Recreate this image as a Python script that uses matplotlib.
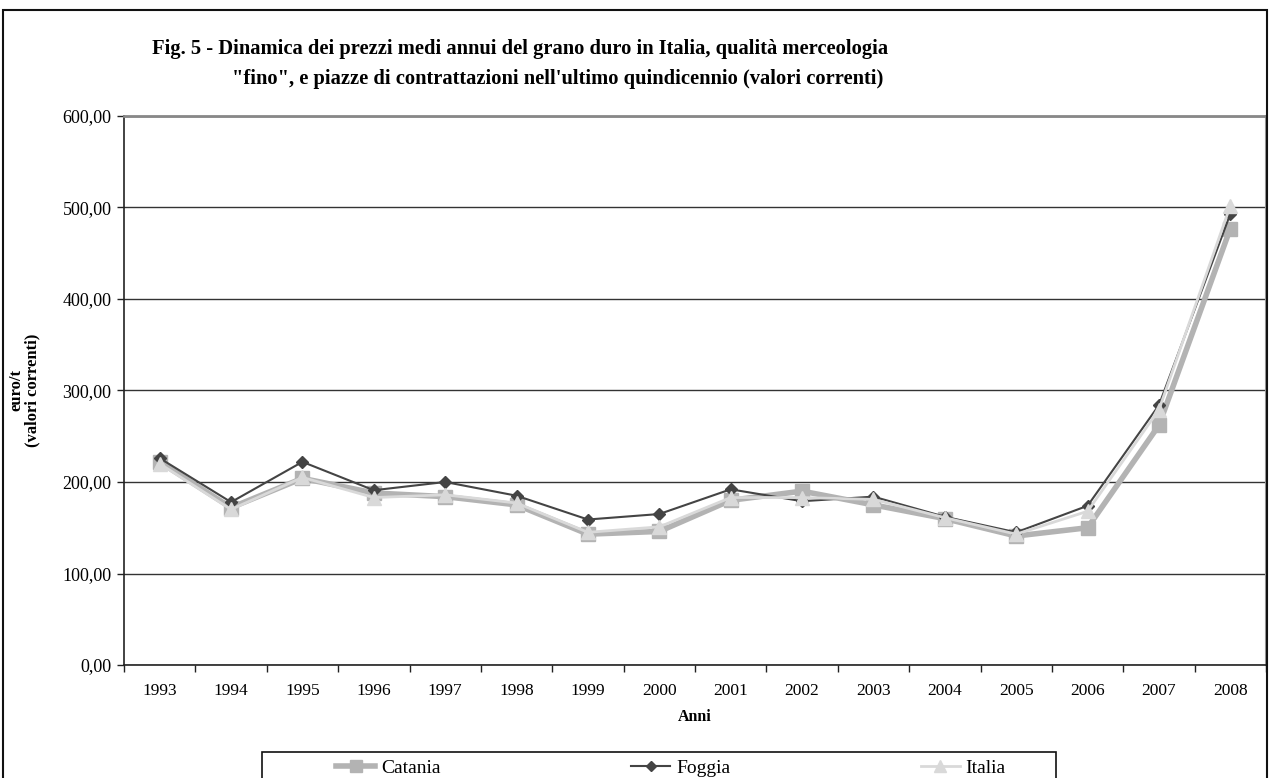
#!/usr/bin/env python3
"""Prezzi medi annui del grano duro fino: Catania, Foggia, Italia (1993-2008)."""
from __future__ import annotations

import matplotlib

matplotlib.use("Agg")
import matplotlib.pyplot as plt
from matplotlib.patches import Rectangle
from matplotlib.ticker import FixedLocator, FuncFormatter

# euro/t, valori correnti
anni = [1993, 1994, 1995, 1996, 1997, 1998, 1999, 2000,
        2001, 2002, 2003, 2004, 2005, 2006, 2007, 2008]
catania = [222, 172, 204, 188, 184, 175, 143, 146,
           180, 190, 175, 160, 141, 150, 262, 477]
foggia = [226, 178, 222, 191, 200, 185, 159, 165,
          192, 179, 184, 162, 145, 174, 284, 493]
italia = [220, 170, 205, 183, 186, 177, 145, 151,
          183, 183, 181, 161, 143, 168, 279, 502]

W, H, DPI = 1269, 778, 100
SERIF = ["Liberation Serif", "DejaVu Serif"]
plt.rcParams["font.family"] = SERIF


def px(x0, y0, x1, y1):
    """Pixel box (top-left origin) -> figure fraction rect."""
    return [x0 / W, 1 - y1 / H, (x1 - x0) / W, (y1 - y0) / H]


fig = plt.figure(figsize=(W / DPI, H / DPI), dpi=DPI)
ax = fig.add_axes(px(124, 116, 1266, 665))

x = list(range(len(anni)))
ax.plot(x, catania, color="#b3b3b3", lw=4, marker="s", ms=10,
        mec="#b3b3b3", mfc="#b3b3b3", label="Catania", zorder=3)
ax.plot(x, foggia, color="#444444", lw=1.5, marker="D", ms=6,
        mec="#444444", mfc="#444444", label="Foggia", zorder=4)
ax.plot(x, italia, color="#d9d9d9", lw=2, marker="^", ms=10,
        mec="#d9d9d9", mfc="#d9d9d9", label="Italia", zorder=5)

ax.set_xlim(-0.5, len(anni) - 0.5)
ax.set_ylim(0, 600)
ax.set_xticks(x, [str(a) for a in anni])
ax.xaxis.set_minor_locator(FixedLocator([i - 0.5 for i in range(len(anni) + 1)]))
ax.tick_params(axis="x", which="major", length=0, pad=13, labelsize=12.5)
ax.tick_params(axis="x", which="minor", length=5, width=1, color="#222222")
ax.set_yticks(range(0, 601, 100))
ax.yaxis.set_major_formatter(FuncFormatter(lambda v, _: f"{v:.2f}".replace(".", ",")))
ax.tick_params(axis="y", length=5, width=1, color="#222222", labelsize=13, pad=4)

ax.grid(axis="y", color="#333333", lw=1)
ax.set_axisbelow(True)
for side in ("left", "bottom"):
    ax.spines[side].set_color("#222222")
    ax.spines[side].set_linewidth(1.2)
ax.spines["top"].set_color("#888888")
ax.spines["top"].set_linewidth(2)
ax.spines["right"].set_color("#999999")
ax.spines["right"].set_linewidth(1.5)

ax.set_xlabel("Anni", fontweight="bold", fontsize=11.5, labelpad=7)
ax.set_ylabel("euro/t\n(valori correnti)", fontweight="bold", fontsize=12,
              labelpad=16, linespacing=1.0)

fig.text(152 / W, 1 - 49 / H,
         "Fig. 5 - Dinamica dei prezzi medi annui del grano duro in Italia, qualità merceologia",
         fontsize=14.8, fontweight="bold", va="center", ha="left")
fig.text(232 / W, 1 - 79 / H,
         "\"fino\", e piazze di contrattazioni nell'ultimo quindicennio (valori correnti)",
         fontsize=14.8, fontweight="bold", va="center", ha="left")

# legend box runs off the lower edge of the page
fig.patches.append(Rectangle((262 / W, -0.05), (1056 - 262) / W, 0.05 + (778 - 752) / H,
                             transform=fig.transFigure, fill=False,
                             edgecolor="#111111", lw=1.2))
fig.legend(loc="center", bbox_to_anchor=(671 / W, 1 - 768 / H), ncol=3,
           frameon=False, fontsize=14, handlelength=2, handletextpad=0.3,
           columnspacing=9.8, borderpad=0, markerscale=0.9)

# page frame
fig.patches.append(Rectangle((3 / W, -0.05), (1267 - 3) / W, 0.05 + (778 - 10) / H,
                             transform=fig.transFigure, fill=False,
                             edgecolor="#111111", lw=1.5))

fig.savefig("out.png", dpi=DPI)
